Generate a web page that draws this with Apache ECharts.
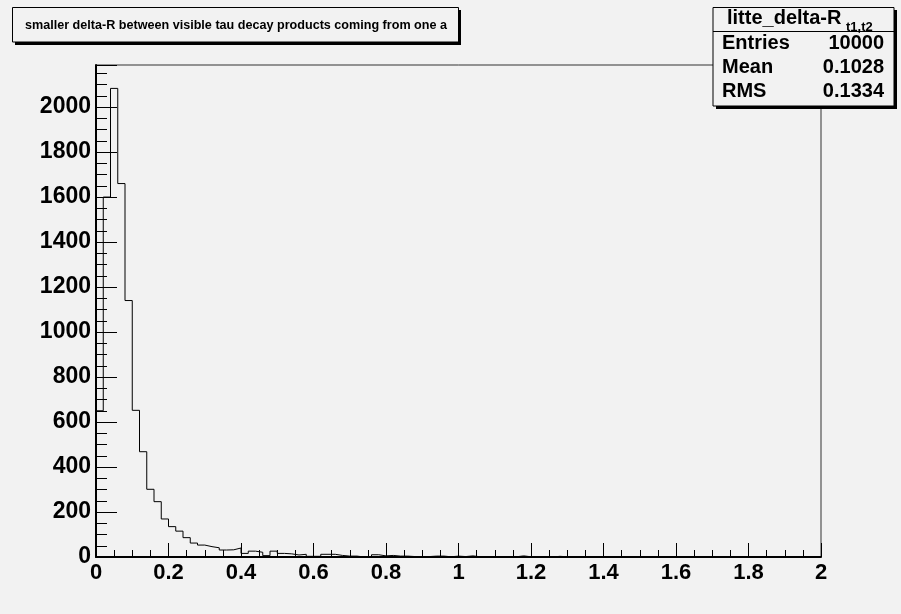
<!DOCTYPE html>
<html><head><meta charset="utf-8">
<script src="https://cdn.jsdelivr.net/npm/echarts@6/dist/echarts.min.js"></script>
<style>html,body{margin:0;padding:0;background:#f2f2f2}#c{width:901px;height:614px}</style>
</head><body><div id="c"></div>
<script>
// ---- data ----
const binWidth = 0.02;
const xMin = 0, xMax = 2;
const yMax = 2187;
const counts = [
  650,1600,2083,1660,1140,652,468,301,246,169,135,115,86,62,53,46,41,31,32,40,
  16,26,21,6,26,16,14,9,12,3,3,12,12,7,4,4,0,1,10,5,
  7,4,4,2,2,2,4,4,1,4,2,5,1,0,1,0,1,1,5,1,
  1,1,0,3,1,0,0,1,0,0,0,1,0,0,0,0,1,0,0,0,
  0,0,0,0,0,0,0,0,0,0,0,0,0,0,0,0,0,0,0,0
];
const xTickLabels = ['0','0.2','0.4','0.6','0.8','1','1.2','1.4','1.6','1.8','2'];
const yTickLabels = ['0','200','400','600','800','1000','1200','1400','1600','1800','2000'];
const titleText = 'smaller delta-R between visible tau decay products coming from one a';
const statsName = 'litte_delta-R';
const statsSub = 't1,t2';
const statsLabels = ['Entries','Mean','RMS'];
const statsValues = ['10000','0.1028','0.1334'];

// ---- chart ----
const FONT = 'Liberation Sans, Arial, Helvetica, sans-serif';
const stepData = counts.map((c, i) => [+(i * binWidth).toFixed(2), c]);
stepData.push([xMax, counts[counts.length - 1]]);

const chart = echarts.init(document.getElementById('c'), null, {renderer: 'canvas'});

const rowY = [43, 67, 91.5];
const graphics = [
  // title box shadow + box
  {type:'rect', z:100, shape:{x:15, y:10, width:446, height:35}, style:{fill:'#000'}},
  {type:'rect', z:101, shape:{x:12.5, y:7.5, width:446, height:34.5}, style:{fill:'#f2f2f2', stroke:'#000', lineWidth:1}},
  {type:'text', z:102, x:25, y:25.5, style:{text:titleText, font:'bold 12.6px ' + FONT, fill:'#000', verticalAlign:'middle', align:'left'}},
  // stats box shadow + box
  {type:'rect', z:100, shape:{x:716, y:10, width:181, height:99}, style:{fill:'#000'}},
  {type:'rect', z:101, shape:{x:713, y:7.5, width:181, height:98.5}, style:{fill:'#f2f2f2', stroke:'#000', lineWidth:1}},
  {type:'line', z:102, shape:{x1:713, y1:31.5, x2:894, y2:31.5}, style:{stroke:'#000', lineWidth:1}},
  {type:'text', z:102, x:727, y:18, style:{text:statsName, font:'bold 20px ' + FONT, fill:'#000', verticalAlign:'middle', align:'left'}},
  {type:'text', z:102, x:846, y:27, style:{text:statsSub, font:'bold 13px ' + FONT, fill:'#000', verticalAlign:'middle', align:'left'}}
];
statsLabels.forEach((lab, i) => {
  graphics.push({type:'text', z:102, x:722, y:rowY[i], style:{text:lab, font:'bold 20px ' + FONT, fill:'#000', verticalAlign:'middle', align:'left'}});
  graphics.push({type:'text', z:102, x:884, y:rowY[i], style:{text:statsValues[i], font:'bold 20px ' + FONT, fill:'#000', verticalAlign:'middle', align:'right'}});
});

chart.setOption({
  animation: false,
  backgroundColor: '#f2f2f2',
  grid: {left: 96, right: 80, top: 65, bottom: 57, show: true, borderColor: '#333', borderWidth: 1, backgroundColor: 'transparent'},
  xAxis: {
    type: 'value', min: xMin, max: xMax, interval: 0.2,
    axisLine: {show: true, lineStyle: {color: '#000', width: 2}},
    axisTick: {show: true, inside: true, length: 14, lineStyle: {color: '#000', width: 1}},
    minorTick: {show: true, splitNumber: 4, length: 7, lineStyle: {color: '#000', width: 1}},
    splitLine: {show: false},
    axisLabel: {
      margin: 5, color: '#000', fontWeight: 'bold', fontSize: 22, fontFamily: FONT,
      formatter: v => { const i = Math.round(v / 0.2); return xTickLabels[i] !== undefined ? xTickLabels[i] : ''; }
    }
  },
  yAxis: {
    type: 'value', min: 0, max: yMax, interval: 200,
    axisLine: {show: true, lineStyle: {color: '#000', width: 2}},
    axisTick: {show: true, inside: true, length: 21, lineStyle: {color: '#000', width: 1}},
    minorTick: {show: true, splitNumber: 4, length: 11, lineStyle: {color: '#000', width: 1}},
    splitLine: {show: false},
    axisLabel: {
      margin: 5, color: '#000', fontWeight: 'bold', fontSize: 23, fontFamily: FONT, showMaxLabel: false,
      formatter: v => { const i = Math.round(v / 200); return (Math.abs(v - i * 200) < 1e-6 && yTickLabels[i] !== undefined) ? yTickLabels[i] : ''; }
    }
  },
  series: [{
    type: 'line', step: 'end', data: stepData, showSymbol: false, symbol: 'none',
    lineStyle: {color: '#000', width: 1}, clip: true
  }],
  graphic: graphics
});
</script>
</body></html>
